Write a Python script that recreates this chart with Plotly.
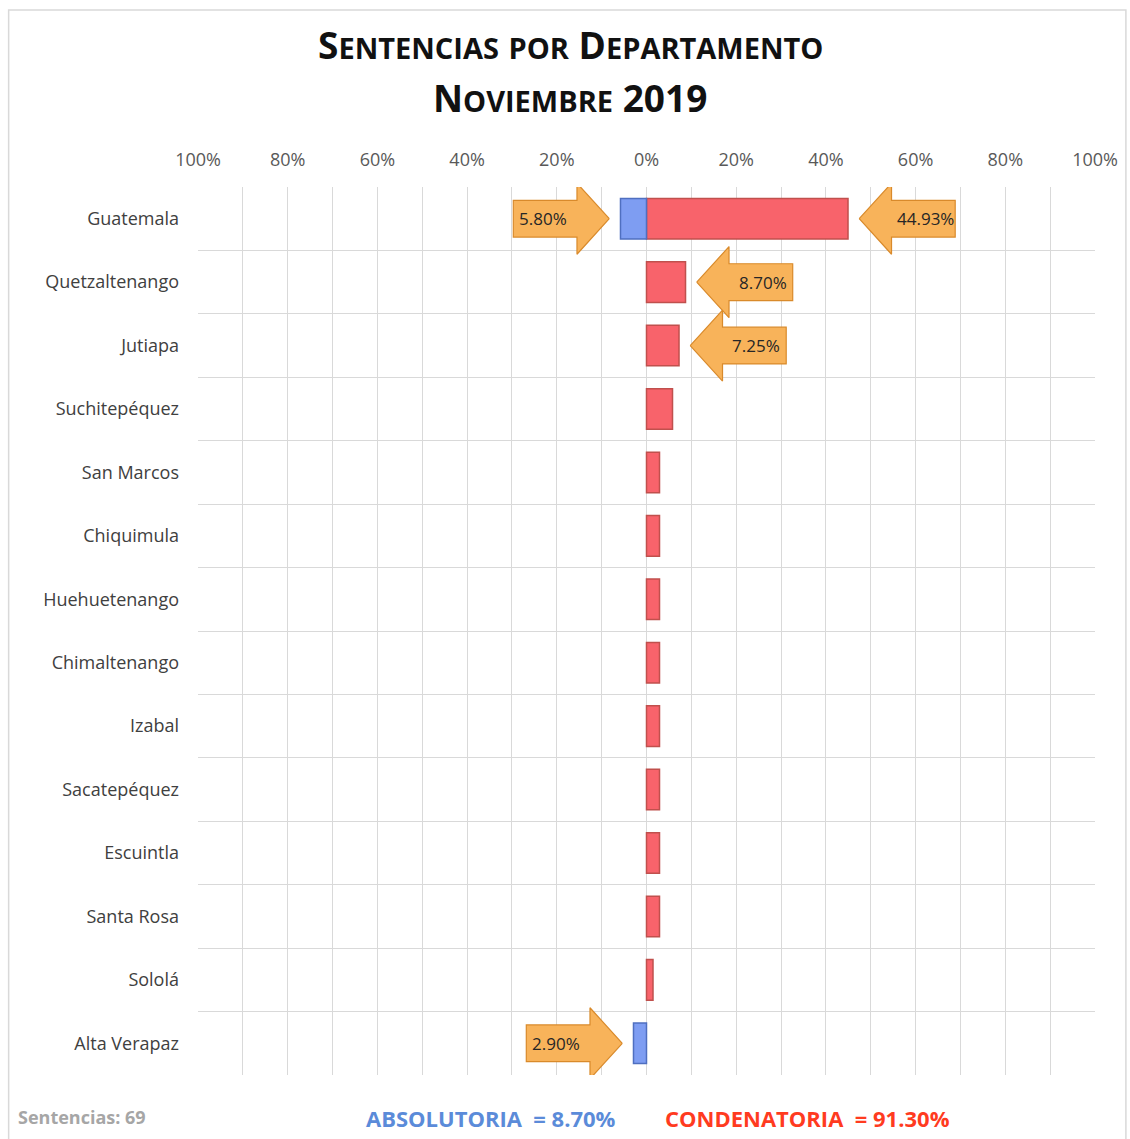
import plotly.graph_objects as go

departamentos = ["Guatemala", "Quetzaltenango", "Jutiapa", "Suchitepéquez", "San Marcos",
                 "Chiquimula", "Huehuetenango", "Chimaltenango", "Izabal", "Sacatepéquez",
                 "Escuintla", "Santa Rosa", "Sololá", "Alta Verapaz"]
condenatoria = [44.93, 8.70, 7.25, 5.80, 2.90, 2.90, 2.90, 2.90, 2.90, 2.90, 2.90, 2.90, 1.45, 0.0]
absolutoria = [5.80, 0, 0, 0, 0, 0, 0, 0, 0, 0, 0, 0, 0, 2.90]
tick_vals = [-100, -80, -60, -40, -20, 0, 20, 40, 60, 80, 100]
total_sentencias = 69
total_abs = 8.70
total_cond = 91.30
label_threshold = 7.0

FONT = "Open Sans"
RED = "#F8636B"
RED_LINE = "#C0504D"
BLUE = "#7E9DF2"
BLUE_LINE = "#4F6FC0"
ORANGE = "#F8B35A"
ORANGE_LINE = "#D98A2B"

idx = list(range(len(departamentos)))

fig = go.Figure()
fig.add_trace(go.Bar(
    y=idx, x=[v / 100 if v else None for v in condenatoria], orientation="h", name="Condenatoria",
    marker=dict(color=RED, line=dict(color=RED_LINE, width=1.5)), width=0.64,
    hoverinfo="skip"))
fig.add_trace(go.Bar(
    y=idx, x=[-v / 100 if v else None for v in absolutoria], orientation="h", name="Absolutoria",
    marker=dict(color=BLUE, line=dict(color=BLUE_LINE, width=1.5)), width=0.64,
    hoverinfo="skip"))

# callout arrows
GAP, HEAD, BODY, BH, HH = 0.025, 0.072, 0.142, 0.29, 0.56


def arrow(value, yc, direction):
    # direction +1: arrow right of the bar pointing left; -1: left of the bar pointing right
    tip = direction * (value / 100 + GAP)
    hb = tip + direction * HEAD
    end = hb + direction * BODY
    xs = [tip, hb, hb, end, end, hb, hb, tip]
    ys = [yc, yc - HH, yc - BH, yc - BH, yc + BH, yc + BH, yc + HH, yc]
    fig.add_trace(go.Scatter(x=xs, y=ys, mode="lines", fill="toself",
                             fillcolor=ORANGE, line=dict(color=ORANGE_LINE, width=1.2),
                             hoverinfo="skip", showlegend=False))
    fig.add_annotation(x=(hb + end) / 2 + direction * 0.004, y=yc, text=f"{value:.2f}%",
                       showarrow=False, font=dict(family=FONT, size=17, color="#262626"))


for i, v in enumerate(condenatoria):
    if v >= label_threshold:
        arrow(v, i, 1)
for i, v in enumerate(absolutoria):
    if v > 0:
        arrow(v, i, -1)

fig.update_layout(
    width=1130, height=1139,
    margin=dict(l=198, r=32, t=187, b=64),
    paper_bgcolor="white", plot_bgcolor="white",
    barmode="overlay", bargap=0.36, showlegend=False,
    font=dict(family=FONT, color="#404040"),
)
fig.update_xaxes(
    range=[-1, 1], side="top", tickvals=[v / 100 for v in tick_vals],
    ticktext=[f"{abs(v)}%" for v in tick_vals],
    tickfont=dict(family=FONT, size=18, color="#595959"), ticklabelstandoff=16,
    showgrid=True, gridcolor="#D9D9D9", gridwidth=1.2, zeroline=False,
    minor=dict(dtick=0.1, showgrid=True, gridcolor="#D9D9D9", gridwidth=1.2),
    ticks="", showline=False, fixedrange=True,
)
fig.update_yaxes(
    range=[len(departamentos) - 0.5, -0.5], tickvals=idx, ticktext=departamentos,
    tickfont=dict(family=FONT, size=18, color="#404040"),
    showgrid=False, zeroline=False, ticks="", ticklabelstandoff=18,
    minor=dict(tickvals=[i - 0.5 for i in range(len(departamentos) + 1)],
               showgrid=True, gridcolor="#D9D9D9", gridwidth=1.2),
    fixedrange=True,
)


def smallcaps(text, small=29):
    out = []
    for word in text.split(" "):
        first, rest = word[0], word[1:]
        if first.isupper():
            piece = first.upper()
            if rest:
                piece += f"<span style='font-size:{small}px'>{rest.upper()}</span>"
        else:
            piece = f"<span style='font-size:{small}px'>{word.upper()}</span>"
        out.append(piece)
    return " ".join(out)


fig.add_annotation(xref="paper", yref="paper", x=0.415, y=1 + (187 - 45) / 888, yanchor="middle",
                   text="<b>" + smallcaps("Sentencias por Departamento") + "</b>",
                   showarrow=False, font=dict(family=FONT, size=37, color="#111111"))
fig.add_annotation(xref="paper", yref="paper", x=0.415, y=1 + (187 - 97) / 888, yanchor="middle",
                   text="<b>" + smallcaps("Noviembre") + " 2019</b>",
                   showarrow=False, font=dict(family=FONT, size=37, color="#111111"))

fig.add_annotation(xref="paper", yref="paper", x=(15 - 198) / 900, y=(1075 - 1117) / 888,
                   xanchor="left", yanchor="middle", text=f"<b>Sentencias: {total_sentencias}</b>",
                   showarrow=False, font=dict(family=FONT, size=18, color="#A6A6A6"))
fig.add_annotation(xref="paper", yref="paper", x=(365 - 198) / 900, y=(1075 - 1118) / 888,
                   xanchor="left", yanchor="middle", text=f"<b>ABSOLUTORIA  = {total_abs:.2f}%</b>",
                   showarrow=False, font=dict(family=FONT, size=22, color="#5B8BD9"))
fig.add_annotation(xref="paper", yref="paper", x=(665 - 198) / 900, y=(1075 - 1118) / 888,
                   xanchor="left", yanchor="middle", text=f"<b>CONDENATORIA  = {total_cond:.2f}%</b>",
                   showarrow=False, font=dict(family=FONT, size=22, color="#FF3B1F"))

# chart border
fig.add_shape(type="rect", xref="paper", yref="paper",
              x0=(8 - 198) / 900, x1=(1129 - 198) / 900,
              y0=(1075 - 1140) / 888, y1=1 + (187 - 10) / 888,
              line=dict(color="#D9D9D9", width=1.5), layer="below")

fig.write_html("out.html", config={"displayModeBar": False},
               post_script="document.body.style.margin='0';document.body.style.overflow='hidden';")
